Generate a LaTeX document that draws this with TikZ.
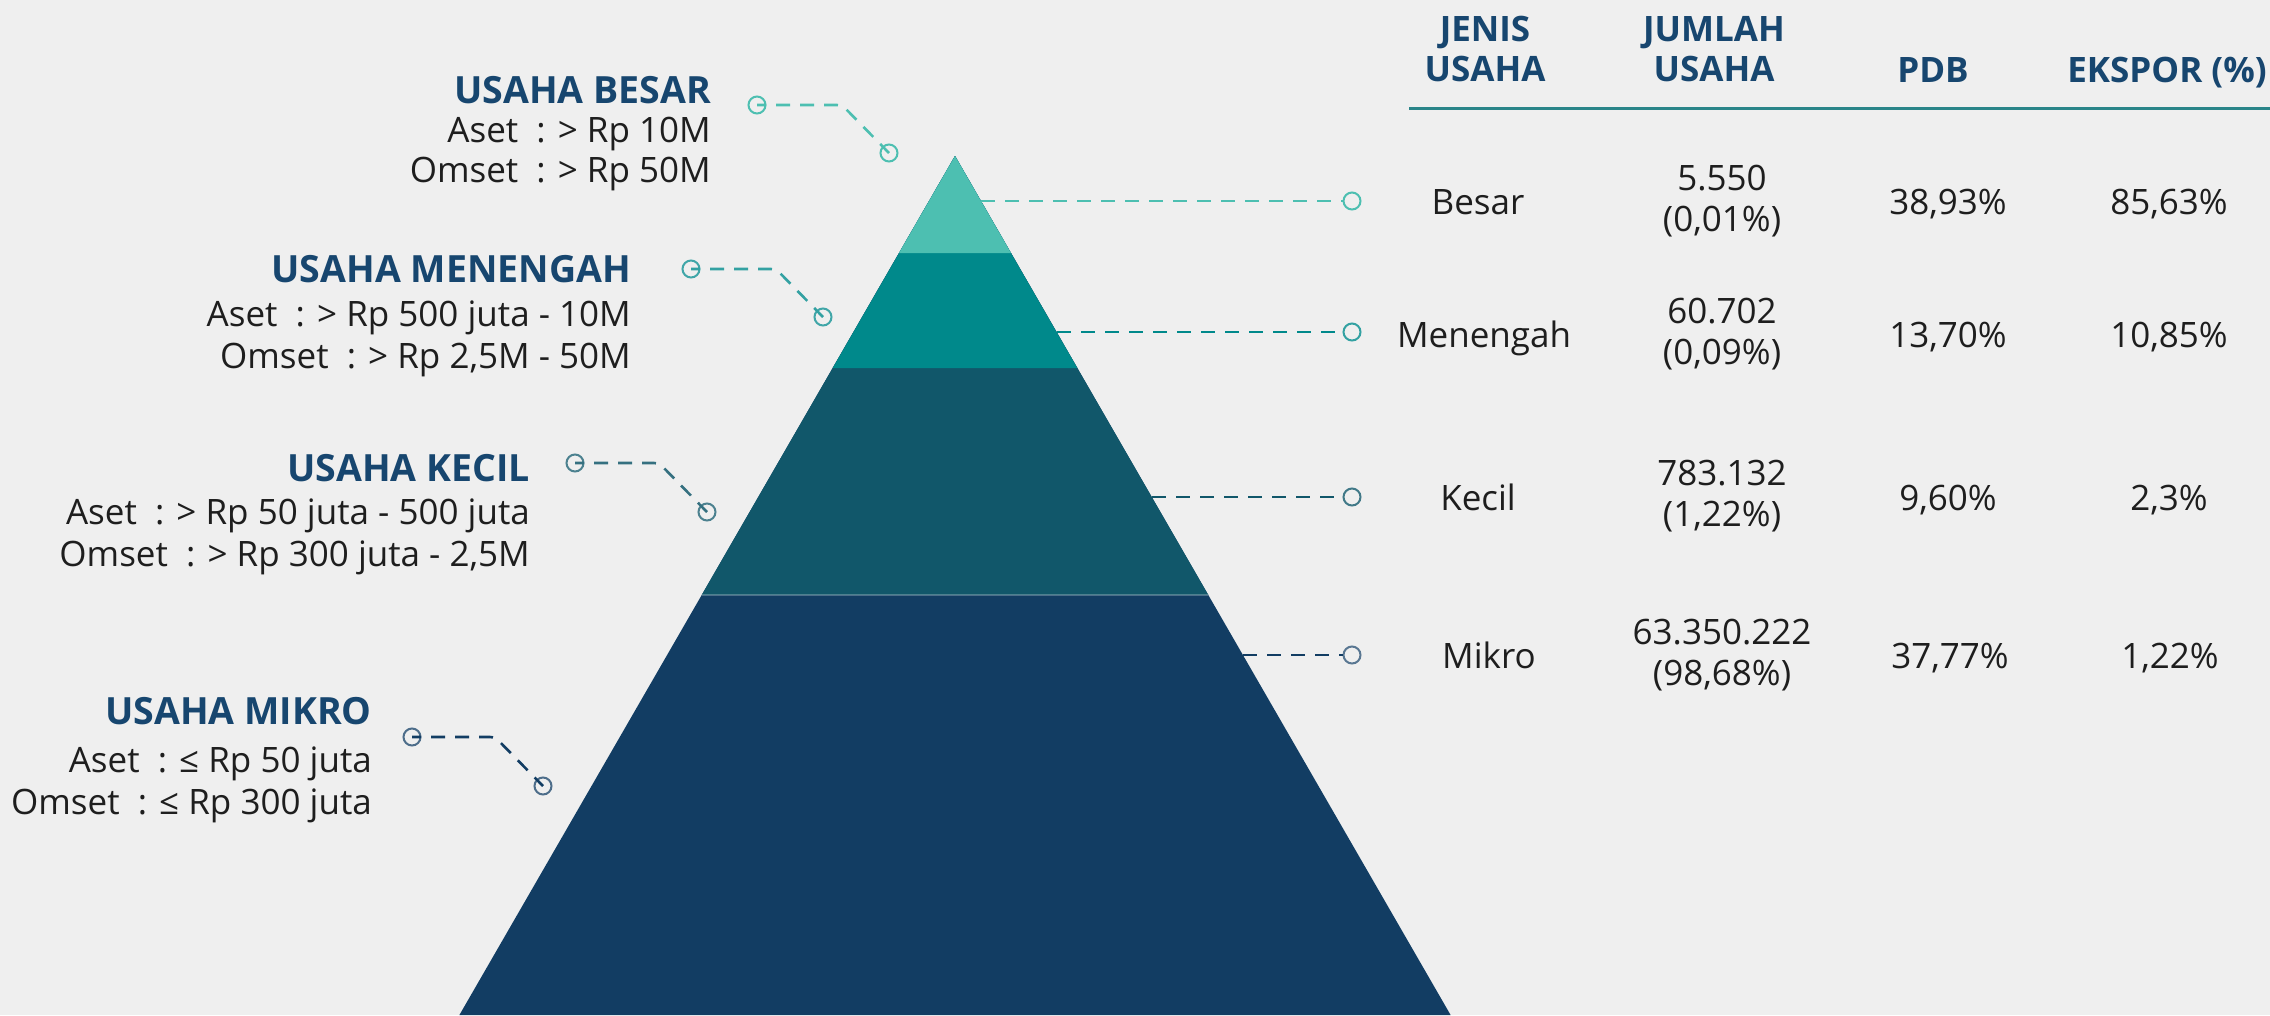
\documentclass[tikz,border=0pt]{standalone}
\usepackage{fontspec}
\setmainfont{Open Sans}
\definecolor{bg}{HTML}{EFEFEF}
\definecolor{cBesar}{HTML}{4DBFB1}
\definecolor{cMen}{HTML}{00898B}
\definecolor{cKec}{HTML}{11576A}
\definecolor{cMik}{HTML}{123D63}
\definecolor{navy}{HTML}{17466F}
\definecolor{txt}{HTML}{1E1E1E}
\definecolor{rulec}{HTML}{2A8589}
\begin{document}
\begin{tikzpicture}[x=1pt,y=-1pt,
 title/.style={anchor=base east,font=\bfseries\fontsize{37.5}{40}\selectfont,text=navy,inner sep=0pt},
 body/.style={anchor=base east,font=\fontsize{35}{40}\selectfont,text=txt,inner sep=0pt},
 cell/.style={align=center,font=\fontsize{35}{40.5}\selectfont,text=txt,inner sep=0pt},
 cellb/.style={anchor=base,font=\fontsize{35}{40.5}\selectfont,text=txt,inner sep=0pt},
 head/.style={align=center,font=\bfseries\fontsize{35}{40.5}\selectfont,text=navy,inner sep=0pt},
 dot/.style={circle,draw,line width=2pt,minimum size=17pt,inner sep=0pt},
 lead/.style={line width=2.6pt,dash pattern=on 14pt off 10pt},
 leadl/.style={line width=2.6pt,dash pattern=on 14pt off 10pt,dash phase=5pt,rounded corners=5pt},
]
\useasboundingbox (0,0) rectangle (2270,1015);
\fill[bg] (0,0) rectangle (2270,1015);

% pyramid
\coordinate (apex) at (955,156);
\fill[cMik] (apex) -- (1450.6,1015) -- (459.4,1015) -- cycle;
\fill[cKec] (apex) -- (1208.3,595) -- (701.7,595) -- cycle;
\fill[cMen] (apex) -- (1077.3,368) -- (832.7,368) -- cycle;
\fill[cBesar] (apex) -- (1011,253) -- (899,253) -- cycle;
\draw[white,opacity=0.25,line width=1.2pt] (701.7,595) -- (1208.3,595);

% right connectors
\coordinate (eb) at (981,201);
\coordinate (em) at (1057,332);
\coordinate (ek) at (1152,497);
\coordinate (ei) at (1243,655);
\node[dot,draw=cBesar] (rb) at (1352,201) {};
\node[dot,draw=cMen!80!white] (rm) at (1352,332) {};
\node[dot,draw=cKec!80!white] (rk) at (1352,497) {};
\node[dot,draw=cMik!70!white] (ri) at (1352,655) {};
\draw[lead,cBesar] (eb) -- (rb);
\draw[lead,cMen] (em) -- (rm);
\draw[lead,cKec] (ek) -- (rk);
\draw[lead,cMik] (ei) -- (ri);

% left connectors
\node[dot,draw=cBesar] (lb1) at (757,105) {};
\node[dot,draw=cBesar] (lb2) at (889,153) {};
\coordinate (lbc) at (842,105);
\draw[leadl,cBesar] (lb1.center) -- (lbc) -- (lb2.center);

\node[dot,draw=cMen!75!white] (lm1) at (691,269) {};
\node[dot,draw=cMen!75!white] (lm2) at (823,317) {};
\coordinate (lmc) at (776,269);
\draw[leadl,cMen!80!white] (lm1.center) -- (lmc) -- (lm2.center);

\node[dot,draw=cKec!75!white] (lk1) at (575,463) {};
\node[dot,draw=cKec!75!white] (lk2) at (707,512) {};
\coordinate (lkc) at (659,463);
\draw[leadl,cKec!85!white] (lk1.center) -- (lkc) -- (lk2.center);

\node[dot,draw=cMik!75!white] (li1) at (412,737) {};
\node[dot,draw=cMik!75!white] (li2) at (543,786) {};
\coordinate (lic) at (495,737);
\draw[leadl,cMik] (li1.center) -- (lic) -- (li2.center);

% left labels
\node[title] (tb) at (711,103) {USAHA BESAR};
\node[body] (tb1) at (711,142) {Aset\ \ : > Rp 10M};
\node[body] (tb2) at (711,182) {Omset\ \ : > Rp 50M};

\node[title] (tm) at (631,282) {USAHA MENENGAH};
\node[body] (tm1) at (631,326) {Aset\ \ : > Rp 500 juta - 10M};
\node[body] (tm2) at (631,368) {Omset\ \ : > Rp 2,5M - 50M};

\node[title] (tk) at (530,481) {USAHA KECIL};
\node[body] (tk1) at (530,524) {Aset\ \ : > Rp 50 juta - 500 juta};
\node[body] (tk2) at (530,566) {Omset\ \ : > Rp 300 juta - 2,5M};

\node[title] (ti) at (372,724) {USAHA MIKRO};
\node[body] (ti1) at (372,772) {Aset\ \ : ≤ Rp 50 juta};
\node[body] (ti2) at (372,814) {Omset\ \ : ≤ Rp 300 juta};

% table header
\node[head] (hj) at (1485,49) {JENIS\\USAHA};
\node[head] (hu) at (1714,49) {JUMLAH\\USAHA};
\node[head,anchor=base] (hp) at (1933,82) {PDB};
\node[head,anchor=base] (he) at (2167,82) {EKSPOR (\%)};
\draw[rulec,line width=3pt] (1409,108.5) -- (2270,108.5);

% rows
\node[cellb] (r1a) at (1478,214) {Besar};
\node[cell] (r1b) at (1722,201) {5.550\\(0,01\%)};
\node[cellb] (r1c) at (1948,214) {38,93\%};
\node[cellb] (r1d) at (2169,214) {85,63\%};

\node[cellb] (r2a) at (1484,347) {Menengah};
\node[cell] (r2b) at (1722,334) {60.702\\(0,09\%)};
\node[cellb] (r2c) at (1948,347) {13,70\%};
\node[cellb] (r2d) at (2169,347) {10,85\%};

\node[cellb] (r3a) at (1478,510) {Kecil};
\node[cell] (r3b) at (1722,496) {783.132\\(1,22\%)};
\node[cellb] (r3c) at (1948,510) {9,60\%};
\node[cellb] (r3d) at (2169,510) {2,3\%};

\node[cellb] (r4a) at (1489,668) {Mikro};
\node[cell] (r4b) at (1722,655) {63.350.222\\(98,68\%)};
\node[cellb] (r4c) at (1950,668) {37,77\%};
\node[cellb] (r4d) at (2170,668) {1,22\%};
\end{tikzpicture}
\end{document}
